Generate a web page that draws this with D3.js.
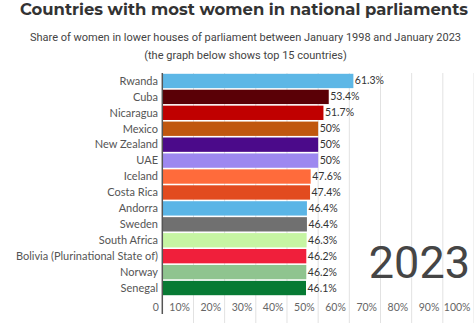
<!DOCTYPE html>
<html><head><meta charset="utf-8">
<script src="https://cdn.jsdelivr.net/npm/d3@7"></script>
<style>body{margin:0;background:#fff}svg{display:block}</style>
</head><body>
<svg id="c" width="474" height="323"></svg>
<script>
const countries = ["Rwanda","Cuba","Nicaragua","Mexico","New Zealand","UAE","Iceland","Costa Rica","Andorra","Sweden","South Africa","Bolivia (Plurinational State of)","Norway","Senegal"];
const values = [61.3,53.4,51.7,50,50,50,47.6,47.4,46.4,46.4,46.3,46.2,46.2,46.1];
const valueLabels = ["61.3%","53.4%","51.7%","50%","50%","50%","47.6%","47.4%","46.4%","46.4%","46.3%","46.2%","46.2%","46.1%"];
const colors = ["#5db7e6","#5a0006","#c00000","#c0570f","#4b0a8a","#9d88f0","#ff6b3b","#e24b1f","#5ab5e6","#707070","#c6f5a3","#f01f3b","#8fc48f","#077a34"];
const ticks = [0,10,20,30,40,50,60,70,80,90,100];
const tickLabels = ["0","10%","20%","30%","40%","50%","60%","70%","80%","90%","100%"];
const title = "Countries with most women in national parliaments";
const subtitle1 = "Share of women in lower houses of parliament between January 1998 and January 2023";
const subtitle2 = "(the graph below shows top 15 countries)";
const yearLabel = "2023";

const svg = d3.select("#c");
const x = d3.scaleLinear().domain([0,100]).range([162.3,474]);
const y = d3.scaleBand().domain(countries).range([73,296]).paddingInner(0.1).paddingOuter(0.05);

// gridlines
svg.append("g").selectAll("line").data(ticks.slice(1)).join("line")
  .attr("x1",d=>x(d)).attr("x2",d=>x(d)).attr("y1",73).attr("y2",323)
  .attr("stroke","#e2e2e2").attr("stroke-width",1);

// year
svg.append("text").attr("x",470).attr("y",278).attr("text-anchor","end")
  .attr("font-family","Roboto").attr("font-size",45).attr("fill","#454545").text(yearLabel);

// bars
svg.append("g").selectAll("rect").data(countries).join("rect")
  .attr("x",x(0)).attr("y",d=>y(d)).attr("width",(d,i)=>x(values[i])-x(0))
  .attr("height",y.bandwidth()).attr("fill",(d,i)=>colors[i]);

// value labels
svg.append("g").selectAll("text").data(countries).join("text")
  .attr("x",(d,i)=>x(values[i])+1.5).attr("y",d=>y(d)+y.bandwidth()/2+3.5)
  .attr("font-family","Lato").attr("font-size",10.5).attr("fill","#333")
  .text((d,i)=>valueLabels[i]);

// country labels
svg.append("g").selectAll("text").data(countries).join("text")
  .attr("x",158).attr("y",d=>y(d)+y.bandwidth()/2+3.8).attr("text-anchor","end")
  .attr("font-family","Lato").attr("font-size",11).attr("fill","#555")
  .text(d=>d);

// x axis tick labels
const ax = d3.axisBottom(x).tickValues(ticks).tickFormat((d,i)=>tickLabels[i]).tickSize(0);
const axg = svg.append("g").attr("transform","translate(0,301)").call(ax);
axg.select(".domain").remove();
axg.selectAll("text").attr("text-anchor","end").attr("dx",-4)
  .attr("font-family","Lato").attr("font-size",10.5).attr("fill","#666");

// axis line
svg.append("line").attr("x1",x(0)).attr("x2",x(0)).attr("y1",73).attr("y2",314)
  .attr("stroke","#555").attr("stroke-width",1.5);

// titles
svg.append("text").attr("x",244).attr("y",15).attr("text-anchor","middle")
  .attr("font-family","Montserrat, 'DejaVu Sans'").attr("font-weight","bold").attr("font-size",16)
  .attr("fill","#333").attr("textLength",448).attr("lengthAdjust","spacingAndGlyphs").text(title);
svg.append("text").attr("x",245.5).attr("y",40.5).attr("text-anchor","middle")
  .attr("font-family","Roboto").attr("font-size",11).attr("fill","#444").text(subtitle1);
svg.append("text").attr("x",245.5).attr("y",59).attr("text-anchor","middle")
  .attr("font-family","Roboto").attr("font-size",11).attr("fill","#444").text(subtitle2);
</script>
</body></html>
